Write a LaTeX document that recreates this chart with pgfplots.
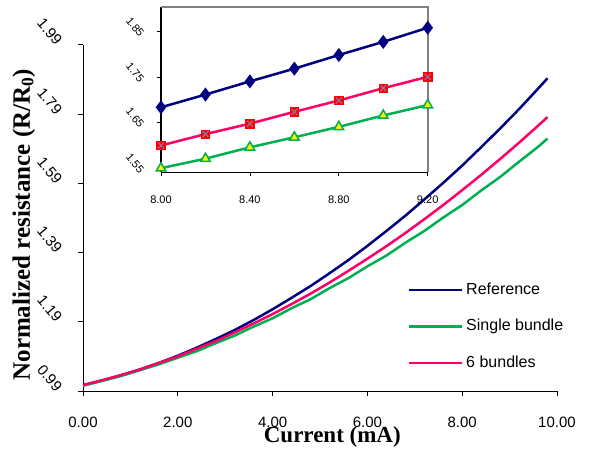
\documentclass[border=0pt]{standalone}
\usepackage{pgfplots}
\pgfplotsset{compat=1.18}
\usepackage{fontspec}
\setmainfont{Liberation Sans}
\newfontfamily\serifb{Liberation Serif}
\definecolor{refblue}{RGB}{0,0,128}
\definecolor{sgreen}{RGB}{0,176,80}
\definecolor{bpink}{RGB}{255,0,102}
\definecolor{xgray}{RGB}{128,128,192}
\definecolor{framegray}{RGB}{128,128,128}
\begin{document}
\begin{tikzpicture}
\path[use as bounding box] (-83pt,-58pt) rectangle (520pt,391pt);
\begin{axis}[
  at={(0pt,0pt)}, anchor=south west,
  scale only axis, width=474pt, height=346.3pt,
  xmin=0, xmax=10, ymin=0.99, ymax=1.99,
  axis x line*=bottom, axis y line*=left,
  axis line style={-, black, line width=0.8pt},
  every outer x axis line/.append style={-},
  every outer y axis line/.append style={-},
  xtick={0,2,4,6,8,10},
  ytick={0.99,1.19,1.39,1.59,1.79,1.99},
  tick align=outside, major tick length=5pt,
  tick style={black, line width=0.8pt},
  /pgf/number format/assume math mode=true,
  xticklabel={\pgfmathprintnumber[fixed,fixed zerofill,precision=2]{\tick}},
  yticklabel={\pgfmathprintnumber[fixed,fixed zerofill,precision=2]{\tick}},
  xticklabel style={font=\fontsize{15}{18}\selectfont, yshift=-17pt},
  yticklabel style={font=\fontsize{15}{18}\selectfont, xshift=-23pt, yshift=-2pt, rotate=-50, anchor=south east, inner sep=0pt},
  xlabel={Current (mA)},
  xlabel style={font=\serifb\bfseries\fontsize{23}{26}\selectfont, at={(axis description cs:0.526,0)}, anchor=center, yshift=-45.7pt},
  ylabel={Normalized resistance (R/R\textsubscript{0})},
  ylabel style={font=\serifb\bfseries\fontsize{25}{28}\selectfont, at={(axis description cs:-0.125,0.48)}, anchor=center},
  legend style={draw=none, fill=none, at={(rel axis cs:0.679,0.186)}, anchor=west,
    font=\fontsize{16}{19}\selectfont, row sep=21pt, column sep=3pt,
    nodes={inner sep=0pt, text height=12pt, text depth=3.5pt}},
  legend cell align=left,
  legend image code/.code={\draw[#1, line width=2.2pt] (0pt,0pt) -- (53pt,0pt);},
]
\addplot[refblue, line width=2.5pt] coordinates {
(0,1.007) (0.4,1.020) (0.8,1.035) (1.2,1.052) (1.6,1.071) (2.0,1.092) (2.4,1.115)
(2.8,1.140) (3.2,1.166) (3.6,1.195) (4.0,1.226) (4.4,1.259) (4.8,1.293) (5.2,1.330)
(5.6,1.368) (6.0,1.409) (6.4,1.452) (6.8,1.496) (7.2,1.543) (7.6,1.591) (8.0,1.641)
(8.4,1.694) (8.8,1.748) (9.2,1.804) (9.6,1.863) (9.8,1.893)};
\addlegendentry{Reference}
\addplot[sgreen, line width=2.5pt] coordinates {
(0,1.005) (0.4,1.019) (0.8,1.033) (1.2,1.050) (1.6,1.067) (2.0,1.086) (2.4,1.105)
(2.8,1.128) (3.2,1.150) (3.6,1.176) (4.0,1.200) (4.4,1.229) (4.8,1.255) (5.2,1.287)
(5.6,1.316) (6.0,1.350) (6.4,1.381) (6.8,1.418) (7.2,1.452) (7.6,1.491) (8.0,1.527)
(8.4,1.569) (8.8,1.608) (9.2,1.652) (9.6,1.695) (9.8,1.719)};
\addlegendentry{Single bundle}
\addplot[bpink, line width=2.5pt] coordinates {
(0,1.007) (0.4,1.021) (0.8,1.036) (1.2,1.052) (1.6,1.071) (2.0,1.090) (2.4,1.112)
(2.8,1.134) (3.2,1.159) (3.6,1.185) (4.0,1.212) (4.4,1.241) (4.8,1.271) (5.2,1.303)
(5.6,1.337) (6.0,1.372) (6.4,1.408) (6.8,1.446) (7.2,1.486) (7.6,1.527) (8.0,1.570)
(8.4,1.614) (8.8,1.660) (9.2,1.707) (9.6,1.756) (9.8,1.781)};
\addlegendentry{6 bundles}
\end{axis}
\begin{axis}[
  at={(78pt,218.7pt)}, anchor=south west,
  scale only axis, width=266.7pt, height=165pt,
  xmin=8, xmax=9.2, ymin=1.541, ymax=1.904,
  axis background/.style={fill=white},
  axis x line*=bottom, axis y line*=left,
  axis line style={-, black, line width=1.5pt},
  every outer x axis line/.append style={-},
  every outer y axis line/.append style={-},
  xtick={8,8.4,8.8,9.2},
  ytick={1.55,1.65,1.75,1.85},
  tick align=outside, major tick length=4pt,
  tick style={black, line width=0.8pt},
  /pgf/number format/assume math mode=true,
  xticklabel={\pgfmathprintnumber[fixed,fixed zerofill,precision=2]{\tick}},
  yticklabel={\pgfmathprintnumber[fixed,fixed zerofill,precision=2]{\tick}},
  xticklabel style={font=\fontsize{11}{13}\selectfont, yshift=-16pt},
  yticklabel style={font=\fontsize{11}{13}\selectfont, xshift=-18pt, yshift=-6pt, rotate=-50, anchor=south east, inner sep=0pt},
  clip=false,
]
\addplot[refblue, line width=2.5pt, mark=diamond*, mark size=5pt, mark options={fill=refblue}] coordinates {
(8.0,1.684) (8.2,1.712) (8.4,1.741) (8.6,1.769) (8.8,1.799) (9.0,1.828) (9.2,1.859)};
\addplot[bpink, line width=2.5pt, mark=square*, mark size=4.2pt, mark options={fill=red, draw=red, line width=0.6pt}] coordinates {
(8.0,1.600) (8.2,1.625) (8.4,1.648) (8.6,1.674) (8.8,1.699) (9.0,1.726) (9.2,1.751)};
\addplot[only marks, mark=x, mark size=4.2pt, mark options={draw=xgray, line width=1pt}] coordinates {
(8.0,1.600) (8.2,1.625) (8.4,1.648) (8.6,1.674) (8.8,1.699) (9.0,1.726) (9.2,1.751)};
\addplot[sgreen, line width=2.5pt, mark=triangle*, mark size=5.5pt, mark options={fill=yellow, draw=sgreen, line width=1.5pt}] coordinates {
(8.0,1.550) (8.2,1.571) (8.4,1.596) (8.6,1.618) (8.8,1.641) (9.0,1.666) (9.2,1.689)};
\draw[framegray, line width=2pt] (rel axis cs:0,1) -- (rel axis cs:1,1) -- (rel axis cs:1,0);
\end{axis}
\end{tikzpicture}
\end{document}
